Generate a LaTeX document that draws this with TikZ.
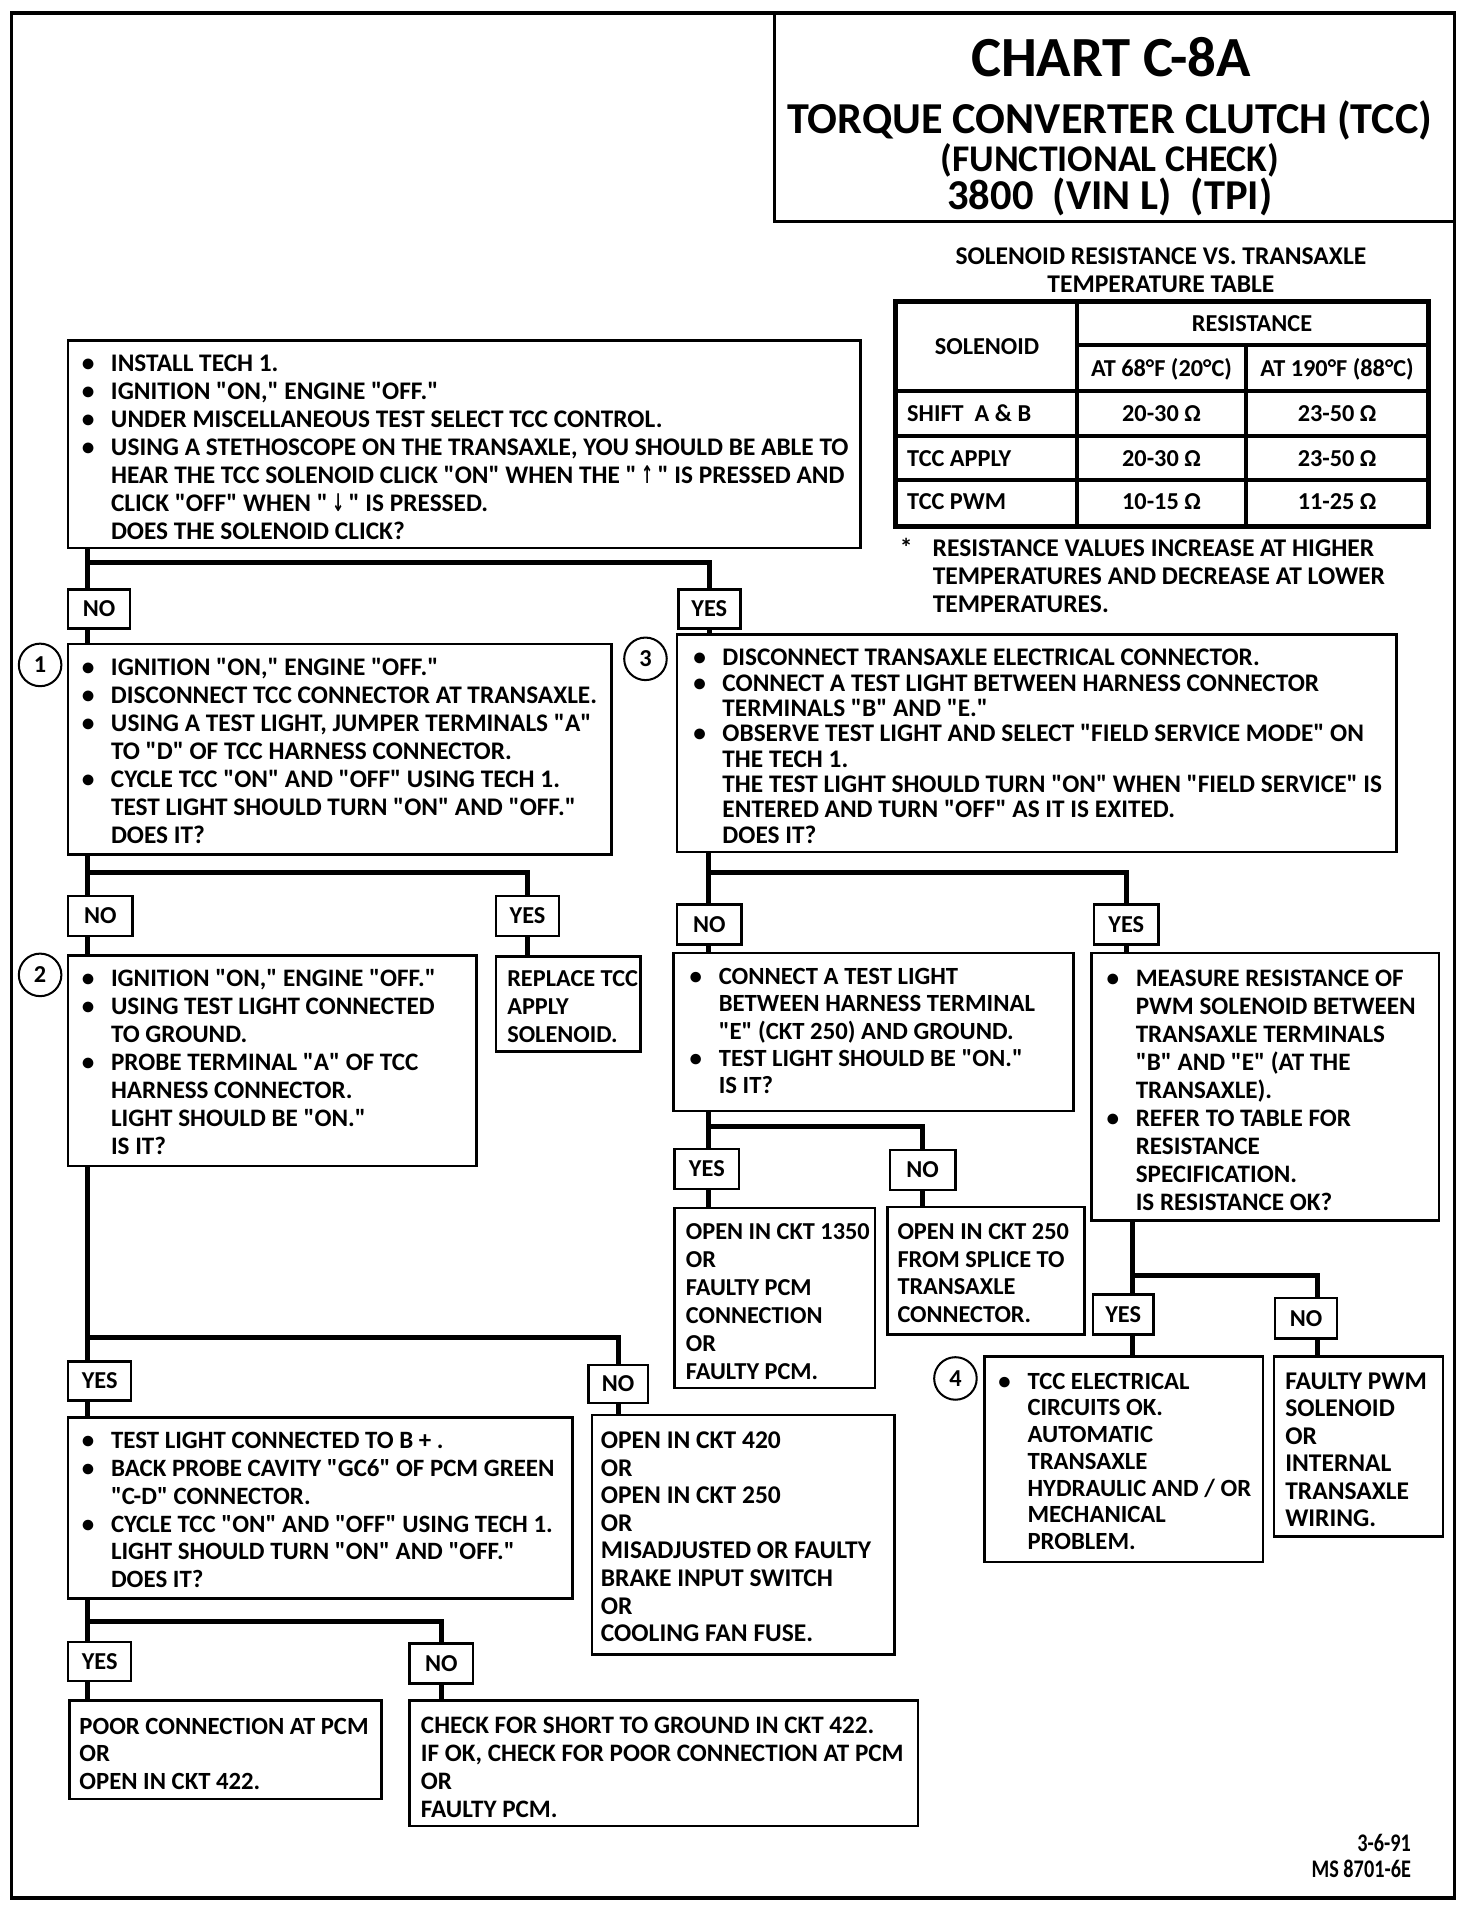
\documentclass[tikz,border=0pt]{standalone}
\usepackage{fontspec}
\newfontfamily\cb{Carlito}
\newfontfamily\cbn{Carlito}[FakeStretch=0.8]
\newfontfamily\dvs{DejaVu Sans}[FakeStretch=0.6]
\usetikzlibrary{calc}

\newcommand\fz[2]{\fontsize{#1}{#2}\cb\bfseries}
\newcommand\Bu{\makebox[14.4pt][l]{\textbullet}}
\newcommand\In{\makebox[14.4pt]{}}
\newcommand\Fs{\rule{0pt}{9pt}}
\newcommand\arr[1]{{\fontsize{12}{13}\dvs #1}}
\newcommand\mkbox[6][]{\node[box,#1,minimum width={(#5-#3)*0.6pt},minimum height={(#6-#4)*0.6pt}] (#2) at (#3,#4) {};}
\newcommand\mklab[6]{\node[lbl,minimum width={(#4-#2)*0.6pt},minimum height={(#5-#3)*0.6pt}] (#1) at (#2,#3) {#6};}

\tikzset{
  box/.style={draw, line width=1.2pt, inner sep=0pt, anchor=north west},
  lbl/.style={draw, line width=1.2pt, inner sep=0pt, anchor=north west,
    font=\fz{12}{14}, text height=7.7pt, text depth=0pt},
  conn/.style={line width=2.4pt},
  txt/.style={inner sep=0pt, anchor=north west, align=left, font=\fz{12.4}{13.8}},
  num/.style={draw, circle, line width=1pt, minimum size=21pt, inner sep=0pt,
    font=\fz{12}{14}, text height=7.7pt, text depth=0pt},
  cell/.style={inner sep=0pt, font=\fz{12}{14}, text height=7.7pt, text depth=0pt},
  ttl/.style={inner sep=0pt, text depth=0pt},
  tline/.style={line width=2pt},
}

\begin{document}
\begin{tikzpicture}[x=0.6pt,y=-0.6pt]
\useasboundingbox (0,0) rectangle (1211,1568);

% frame and title
\mkbox[line width=1.8pt]{outer}{8}{9}{1195}{1560}
\mkbox[line width=1.5pt]{tbox}{636}{9}{1195}{181}
\node[ttl, font=\fz{28}{30}, text height=18pt] (t1) at (914,48) {CHART C-8A};
\node[ttl, font=\fz{21.8}{23}, text height=14pt] (t2) at (913,98.5) {TORQUE CONVERTER CLUTCH (TCC)};
\node[ttl, font=\fz{18.6}{20}, text height=12pt] (t3) at (913,131) {(FUNCTIONAL CHECK)};
\node[ttl, font=\fz{21}{23}, text height=13.5pt] (t4) at (913,161) {3800\ \ (VIN L)\ \ (TPI)};

% table
\node[cell, font=\fz{12.6}{14}] (th1) at (955,211) {SOLENOID RESISTANCE VS. TRANSAXLE};
\node[cell, font=\fz{12.6}{14}] (th2) at (955,234) {TEMPERATURE TABLE};
\draw[line width=2.4pt] (737,248) rectangle (1175,433);
\draw[tline] (886,248) -- (886,433);
\draw[tline] (1025,284) -- (1025,433);
\draw[tline] (886,284) -- (1175,284);
\draw[tline] (737,322) -- (1175,322);
\draw[tline] (737,359) -- (1175,359);
\draw[tline] (737,395) -- (1175,395);
\node[cell] (c11) at (812,285) {SOLENOID};
\node[cell] (c12) at (1030,266) {RESISTANCE};
\node[cell] (c13) at (955.5,303) {AT 68°F (20°C)};
\node[cell] (c14) at (1100,303) {AT 190°F (88°C)};
\node[cell, anchor=west] (c21) at (746,340) {SHIFT\ \ A \& B};
\node[cell, anchor=west] (c31) at (746,377) {TCC APPLY};
\node[cell, anchor=west] (c41) at (746,413) {TCC PWM};
\node[cell] (c22) at (955.5,340) {20-30 Ω};
\node[cell] (c23) at (1100,340) {23-50 Ω};
\node[cell] (c32) at (955.5,377) {20-30 Ω};
\node[cell] (c33) at (1100,377) {23-50 Ω};
\node[cell] (c42) at (955.5,413) {10-15 Ω};
\node[cell] (c43) at (1100,413) {11-25 Ω};
\node[txt, font=\fz{12.6}{13.8}] (note) at (740,442.5) {\Fs\makebox[16.2pt][l]{*}RESISTANCE VALUES INCREASE AT HIGHER\\
\makebox[16.2pt]{}TEMPERATURES AND DECREASE AT LOWER\\
\makebox[16.2pt]{}TEMPERATURES.};

% boxes
\mkbox{bA}{55}{279}{707}{450}
\mkbox{b1}{55}{529}{502}{702}
\mkbox{b3}{556}{521}{1148}{700}
\mkbox{b2}{55}{785}{391}{958}
\mkbox{rep}{407}{786}{526}{864}
\mkbox{bN3}{553}{783}{882}{913}
\mkbox{bY3}{897}{783}{1183}{1003}
\mkbox{b1350}{554}{993}{719}{1141}
\mkbox{b250}{729}{992}{891}{1097}
\mkbox{b4}{809}{1115}{1038}{1284}
\mkbox{bPWM}{1047}{1115}{1186}{1263}
\mkbox{bB}{55}{1165}{470}{1314}
\mkbox{b420}{486}{1163}{735}{1360}
\mkbox{bPoor}{56}{1398}{313}{1479}
\mkbox{bShort}{336}{1398}{754}{1501}

% labels
\mklab{nA}{55}{484}{106}{516}{NO}
\mklab{yA}{557}{484}{608}{516}{YES}
\mklab{n1}{55}{736}{108}{769}{NO}
\mklab{y1}{407}{736}{459}{769}{YES}
\mklab{n3}{556}{743}{609}{776}{NO}
\mklab{y3}{899}{743}{952}{776}{YES}
\mklab{yN}{554}{944}{607}{977}{YES}
\mklab{nN}{731}{945}{785}{978}{NO}
\mklab{yY}{898}{1064}{948}{1097}{YES}
\mklab{nY}{1048}{1067}{1099}{1100}{NO}
\mklab{y2}{55}{1119}{107}{1151}{YES}
\mklab{n2}{483}{1122}{532}{1153}{NO}
\mklab{yB}{55}{1350}{107}{1382}{YES}
\mklab{nB}{336}{1351}{388}{1384}{NO}

% step numbers
\node[num] (s1) at (33,547) {1};
\node[num] (s3) at (531,542) {3};
\node[num] (s2) at (33,802) {2};
\node[num] (s4) at (786,1134) {4};

% texts
\node[txt, font=\fz{12.5}{13.8}] (tA) at (67,290.5) {\Fs\Bu INSTALL TECH 1.\\
\Bu IGNITION "ON," ENGINE "OFF."\\
\Bu UNDER MISCELLANEOUS TEST SELECT TCC CONTROL.\\
\Bu USING A STETHOSCOPE ON THE TRANSAXLE, YOU SHOULD BE ABLE TO\\
\In HEAR THE TCC SOLENOID CLICK "ON" WHEN THE "\,\arr{↑}\," IS PRESSED AND\\
\In CLICK "OFF" WHEN "\,\arr{↓}\," IS PRESSED.\\
\In DOES THE SOLENOID CLICK?};

\node[txt, font=\fz{12.5}{13.8}] (t1b) at (67,540.5) {\Fs\Bu IGNITION "ON," ENGINE "OFF."\\
\Bu DISCONNECT TCC CONNECTOR AT TRANSAXLE.\\
\Bu USING A TEST LIGHT, JUMPER TERMINALS "A"\\
\In TO "D" OF TCC HARNESS CONNECTOR.\\
\Bu CYCLE TCC "ON" AND "OFF" USING TECH 1.\\
\In TEST LIGHT SHOULD TURN "ON" AND "OFF."\\
\In DOES IT?};

\node[txt, font=\fz{12.5}{12.5}] (t3b) at (570,532.5) {\Fs\Bu DISCONNECT TRANSAXLE ELECTRICAL CONNECTOR.\\
\Bu CONNECT A TEST LIGHT BETWEEN HARNESS CONNECTOR\\
\In TERMINALS "B" AND "E."\\
\Bu OBSERVE TEST LIGHT AND SELECT "FIELD SERVICE MODE" ON\\
\In THE TECH 1.\\
\In THE TEST LIGHT SHOULD TURN "ON" WHEN "FIELD SERVICE" IS\\
\In ENTERED AND TURN "OFF" AS IT IS EXITED.\\
\In DOES IT?};

\node[txt] (t2b) at (67,796.5) {\Fs\Bu IGNITION "ON," ENGINE "OFF."\\
\Bu USING TEST LIGHT CONNECTED\\
\In TO GROUND.\\
\Bu PROBE TERMINAL "A" OF TCC\\
\In HARNESS CONNECTOR.\\
\In LIGHT SHOULD BE "ON."\\
\In IS IT?};

\node[txt, font=\fz{12}{13.8}] (trep) at (417,796.5) {\Fs REPLACE TCC\\APPLY\\SOLENOID.};

\node[txt, font=\fz{12.2}{13.5}] (tN3) at (567,794.5) {\Fs\Bu CONNECT A TEST LIGHT\\
\In BETWEEN HARNESS TERMINAL\\
\In "E" (CKT 250) AND GROUND.\\
\Bu TEST LIGHT SHOULD BE "ON."\\
\In IS IT?};

\node[txt] (tY3) at (910,796.5) {\Fs\Bu MEASURE RESISTANCE OF\\
\In PWM SOLENOID BETWEEN\\
\In TRANSAXLE TERMINALS\\
\In "B" AND "E" (AT THE\\
\In TRANSAXLE).\\
\Bu REFER TO TABLE FOR\\
\In RESISTANCE\\
\In SPECIFICATION.\\
\In IS RESISTANCE OK?};

\node[txt, font=\fz{12}{13.8}] (t1350) at (564,1004.5) {\Fs OPEN IN CKT 1350\\OR\\FAULTY PCM\\CONNECTION\\OR\\FAULTY PCM.};

\node[txt, font=\fz{12}{13.6}] (t250) at (738,1004.5) {\Fs OPEN IN CKT 250\\FROM SPLICE TO\\TRANSAXLE\\CONNECTOR.};

\node[txt, font=\fz{12.2}{13.2}] (t4b) at (821,1127.5) {\Fs\Bu TCC ELECTRICAL\\
\In CIRCUITS OK.\\
\In AUTOMATIC\\
\In TRANSAXLE\\
\In HYDRAULIC AND / OR\\
\In MECHANICAL\\
\In PROBLEM.};

\node[txt, font=\fz{12.6}{13.6}] (tPWM) at (1057,1127.5) {\Fs FAULTY PWM\\SOLENOID\\OR\\INTERNAL\\TRANSAXLE\\WIRING.};

\node[txt, font=\fz{12.3}{13.7}] (tB) at (67,1176.5) {\Fs\Bu TEST LIGHT CONNECTED TO B + .\\
\Bu BACK PROBE CAVITY "GC6" OF PCM GREEN\\
\In "C-D" CONNECTOR.\\
\Bu CYCLE TCC "ON" AND "OFF" USING TECH 1.\\
\In LIGHT SHOULD TURN "ON" AND "OFF."\\
\In DOES IT?};

\node[txt, font=\fz{12.6}{13.6}] (t420) at (494,1176.5) {\Fs OPEN IN CKT 420\\OR\\OPEN IN CKT 250\\OR\\MISADJUSTED OR FAULTY\\BRAKE INPUT SWITCH\\OR\\COOLING FAN FUSE.};

\node[txt, font=\fz{12.2}{13.5}] (tPoor) at (65,1411.5) {\Fs POOR CONNECTION AT PCM\\OR\\OPEN IN CKT 422.};

\node[txt, font=\fz{12.4}{13.8}] (tShort) at (346,1410.5) {\Fs CHECK FOR SHORT TO GROUND IN CKT 422.\\
IF OK, CHECK FOR POOR CONNECTION AT PCM\\OR\\FAULTY PCM.};

% footer
\node[cell, anchor=east, font=\fontsize{12.5}{14}\cbn\bfseries] (f1) at (1161,1517) {3-6-91};
\node[cell, anchor=east, font=\fontsize{12.5}{14}\cbn\bfseries] (f2) at (1161,1538) {MS 8701-6E};

% connectors
\coordinate (jA) at (72,463);
\draw[conn] (bA.south -| jA) -- (nA.north -| jA);
\draw[conn] (jA) -| (yA.north);
\draw[conn] (nA.south -| jA) -- (b1.north -| jA);
\draw[conn] (yA.south) -- (b3.north -| yA.south);

\coordinate (j1) at (72,718);
\draw[conn] (b1.south -| j1) -- (n1.north -| j1);
\draw[conn] (j1) -| (y1.north);
\draw[conn] (n1.south -| j1) -- (b2.north -| j1);
\draw[conn] (y1.south) -- (rep.north -| y1.south);

\coordinate (j2) at (72,1100);
\draw[conn] (b2.south -| j2) -- (y2.north -| j2);
\draw[conn] (j2) -| (n2.north);
\draw[conn] (y2.south -| j2) -- (bB.north -| j2);
\draw[conn] (n2.south) -- (b420.north -| n2.south);

\coordinate (jB) at (72,1334);
\draw[conn] (bB.south -| jB) -- (yB.north -| jB);
\draw[conn] (jB) -| (nB.north);
\draw[conn] (yB.south -| jB) -- (bPoor.north -| jB);
\draw[conn] (nB.south) -- (bShort.north -| nB.south);

\coordinate (j3) at (583,718);
\draw[conn] (b3.south -| j3) -- (n3.north -| j3);
\draw[conn] (j3) -| (y3.north);
\draw[conn] (n3.south -| j3) -- (bN3.north -| j3);
\draw[conn] (y3.south) -- (bY3.north -| y3.south);

\coordinate (jN) at (583,927);
\draw[conn] (bN3.south -| jN) -- (yN.north -| jN);
\draw[conn] (jN) -| (nN.north);
\draw[conn] (yN.south -| jN) -- (b1350.north -| jN);
\draw[conn] (nN.south) -- (b250.north -| nN.south);

\coordinate (jY) at (932,1049);
\coordinate (jY2) at (1084,1049);
\draw[conn] (bY3.south -| jY) -- (yY.north -| jY);
\draw[conn] (jY) -- (jY2) -- (nY.north -| jY2);
\draw[conn] (yY.south -| jY) -- (b4.north -| jY);
\draw[conn] (nY.south -| jY2) -- (bPWM.north -| jY2);
\end{tikzpicture}
\end{document}
